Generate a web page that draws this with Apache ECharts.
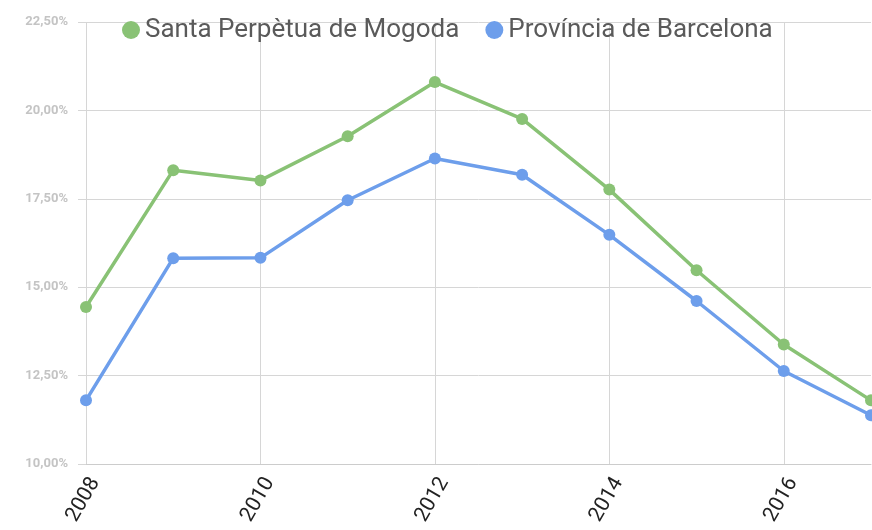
<!DOCTYPE html>
<html>
<head>
<meta charset="utf-8">
<title>Santa Perpètua de Mogoda</title>
<script src="https://cdn.jsdelivr.net/npm/echarts@6/dist/echarts.min.js"></script>
<style>
  html, body { margin: 0; padding: 0; background: #fff; }
  #chart { width: 872px; height: 530px; }
</style>
</head>
<body>
<div id="chart"></div>
<script>
  // anys i valors (%)
  var years = ['2008', '2009', '2010', '2011', '2012', '2013', '2014', '2015', '2016', '2017'];
  var santaPerpetua = [14.44, 18.31, 18.02, 19.27, 20.80, 19.76, 17.76, 15.48, 13.38, 11.80];
  var provinciaBcn = [11.80, 15.82, 15.83, 17.46, 18.64, 18.18, 16.48, 14.61, 12.63, 11.38];
  var names = ['Santa Perpètua de Mogoda', 'Província de Barcelona'];

  var myChart = echarts.init(document.getElementById('chart'));

  function pct(v) {
    return v.toFixed(2).replace('.', ',') + '%';
  }

  // només anys parells
  function even(i) {
    return i % 2 === 0;
  }

  var option = {
    animation: false,
    color: ['#89c275', '#6d9eeb'],
    textStyle: { fontFamily: 'Roboto' },
    legend: {
      top: 12,
      left: 117,
      itemWidth: 18,
      itemHeight: 18,
      itemGap: 26,
      icon: 'circle',
      textStyle: { fontSize: 26, color: '#5a5a5a', fontFamily: 'Roboto' },
      data: names
    },
    grid: { left: 86, right: 1, top: 22, bottom: 66 },
    xAxis: {
      type: 'category',
      data: years,
      boundaryGap: false,
      axisLine: { lineStyle: { color: '#cccccc', width: 1 } },
      axisTick: { show: false },
      axisLabel: {
        interval: even,
        rotate: 60,
        margin: 10,
        fontSize: 21,
        color: '#222',
        verticalAlign: 'top'
      },
      splitLine: {
        show: true,
        interval: even,
        lineStyle: { color: '#d6d6d6', width: 1 }
      }
    },
    yAxis: {
      type: 'value',
      min: 10,
      max: 22.5,
      interval: 2.5,
      axisLine: { show: false },
      axisTick: { show: true, length: 8, lineStyle: { color: '#d6d6d6' } },
      axisLabel: {
        margin: 18,
        fontSize: 13,
        fontWeight: 'bold',
        color: '#c4c4c4',
        formatter: pct
      },
      splitLine: { lineStyle: { color: '#d6d6d6', width: 1 } }
    },
    series: [
      {
        name: names[0],
        type: 'line',
        data: santaPerpetua,
        symbol: 'circle',
        symbolSize: 12,
        lineStyle: { width: 3.5 }
      },
      {
        name: names[1],
        type: 'line',
        data: provinciaBcn,
        symbol: 'circle',
        symbolSize: 12,
        lineStyle: { width: 3.5 }
      }
    ]
  };

  myChart.setOption(option);
</script>
</body>
</html>
